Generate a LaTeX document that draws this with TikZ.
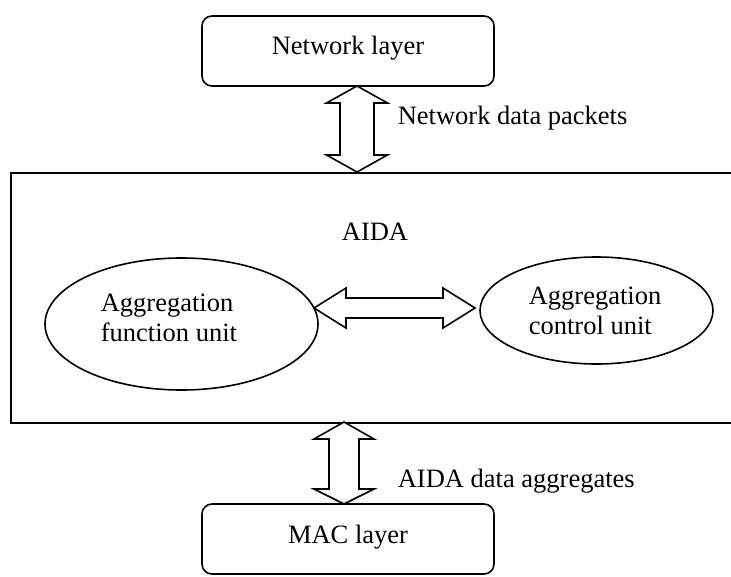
\documentclass[tikz,border=0pt]{standalone}
\usepackage{fontspec}
\setmainfont{Liberation Serif}
\newfontfamily\tnr{Liberation Serif}
\usetikzlibrary{shapes.geometric}
\begin{document}
\begin{tikzpicture}[x=1pt,y=-1pt,line width=1.6pt,
  layerbox/.style={draw,rounded corners=10pt,minimum width=292pt,minimum height=70pt,inner sep=0pt},
  unit/.style={draw,ellipse,inner sep=0pt},
  txt/.style={font=\tnr\fontsize{26.5}{30}\selectfont,inner sep=0pt},
  blockarrow/.style={draw,fill=white,line join=miter}]
\useasboundingbox (0,0) rectangle (731,576);
% containers
\node[draw,rectangle,minimum width=740pt,minimum height=250pt,inner sep=0pt,anchor=north west] (aida) at (10,172) {};
\node[layerbox] (net) at (348,51) {};
\node[layerbox] (mac) at (348,539) {};
\node[unit,minimum width=273pt,minimum height=132pt] (afu) at (181.5,324) {};
\node[unit,minimum width=233pt,minimum height=107pt] (acu) at (596.5,310.5) {};
% texts
\node[txt,anchor=base] (nettext) at (348,54) {Network layer};
\node[txt,anchor=base] (mactext) at (348,543) {MAC layer};
\node[txt,anchor=base] (aidatext) at (375,240) {AIDA};
\node[txt,anchor=base west] (afu1) at (100,311) {Aggregation};
\node[txt,anchor=base west] (afu2) at (100,341) {function unit};
\node[txt,anchor=base west] (acu1) at (528,304) {Aggregation};
\node[txt,anchor=base west] (acu2) at (528,334) {control unit};
\node[txt,anchor=base west] (lbltop) at (397,124) {Network data packets};
\node[txt,anchor=base west] (lblbot) at (397,487) {AIDA data aggregates};
% block double arrows
\coordinate (a1s) at (357,86);
\coordinate (a1e) at (357,172);
\draw[blockarrow] (a1s) -- (387.5,103) -- (374,103) -- (374,155) -- (387.5,155) -- (a1e)
  -- (326.5,155) -- (340,155) -- (340,103) -- (326.5,103) -- cycle;
\coordinate (a2s) at (344,422);
\coordinate (a2e) at (344,504);
\draw[blockarrow] (a2s) -- (374,439) -- (359,439) -- (359,489) -- (374,489) -- (a2e)
  -- (314,489) -- (329,489) -- (329,439) -- (314,439) -- cycle;
\coordinate (a3s) at (314,308);
\coordinate (a3e) at (475,308);
\draw[blockarrow] (a3s) -- (346,288) -- (346,298) -- (443,298) -- (443,288) -- (a3e)
  -- (443,328) -- (443,318) -- (346,318) -- (346,328) -- cycle;
\end{tikzpicture}
\end{document}
